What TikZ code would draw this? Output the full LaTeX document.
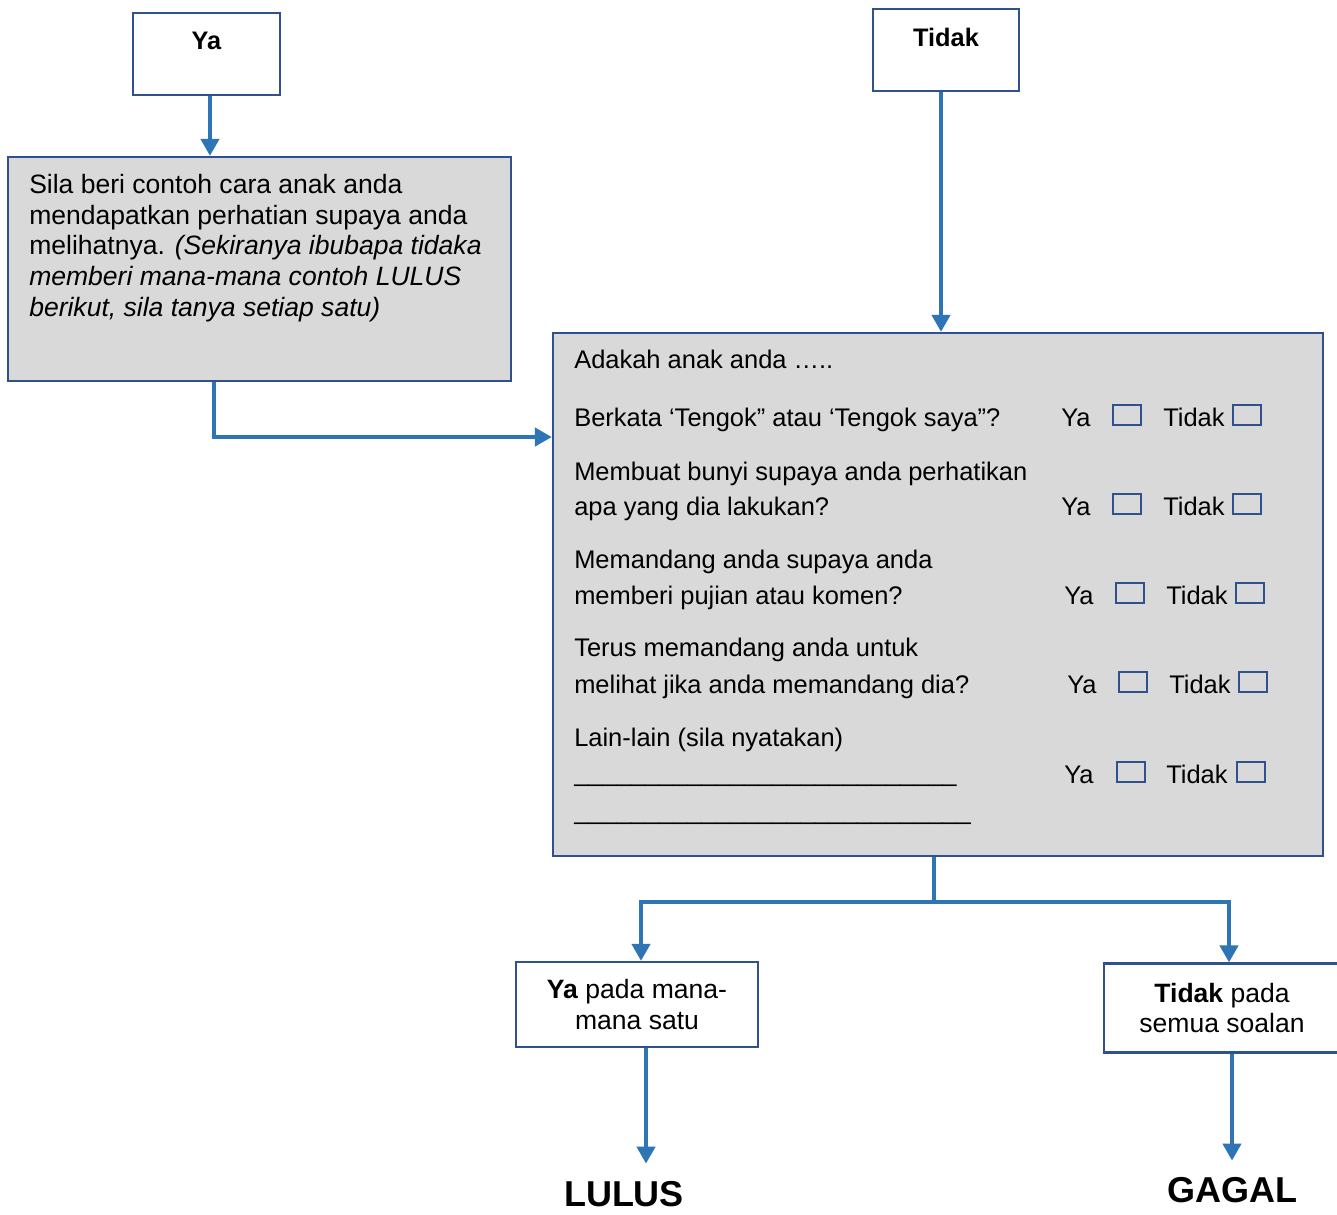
\documentclass[tikz,border=0pt]{standalone}
\usepackage{fontspec}
\setmainfont{Liberation Sans}
\usetikzlibrary{arrows.meta}

\definecolor{arrowblue}{HTML}{2E75B6}
\definecolor{edgeblue}{HTML}{2F528F}
\definecolor{panelgray}{HTML}{D9D9D9}

\newcommand\bodyfont{\fontsize{19.9pt}{23pt}\selectfont}
\newcommand\formfont{\fontsize{19.1pt}{23pt}\selectfont}
\newcommand\headfont{\fontsize{19pt}{23pt}\selectfont\bfseries}
\newcommand\resultfont{\fontsize{27pt}{32pt}\selectfont\bfseries}

\begin{document}
\begin{tikzpicture}[x=0.75pt,y=-0.75pt,
  box/.style={draw=edgeblue,line width=1.7pt,inner sep=0pt},
  size/.style 2 args={minimum width=#1*0.75pt,minimum height=#2*0.75pt},
  panel/.style={box,fill=panelgray},
  plain/.style={box,fill=white},
  arr/.style={draw=arrowblue,line width=3.5pt,
    -{Triangle[length=12.75pt,width=13.5pt]}},
  link/.style={draw=arrowblue,line width=3.5pt},
  body/.style={font=\bodyfont,inner sep=0pt,anchor=base west},
  form/.style={font=\formfont,inner sep=0pt,anchor=base west},
  chk/.style={draw=edgeblue,line width=1.3pt,inner sep=0pt,
    minimum width=21pt,minimum height=15pt,anchor=south west},
  result/.style={font=\resultfont,anchor=base,inner sep=0pt},
]
\path[use as bounding box,fill=white] (0,0) rectangle (1337,1214);

% top decision boxes
\node[plain,font=\headfont,minimum width=110.25pt,anchor=base,
      text height=27pt,text depth=34.5pt] (ya) at (206.5,49) {Ya};
\node[plain,font=\headfont,minimum width=109.5pt,anchor=base,
      text height=27.75pt,text depth=33.75pt] (tidak) at (946,46) {Tidak};

% prompt box on the left
\node[panel,size={503}{224}] (sila) at (259.5,269) {};
\node[body] (s1) at (29,193) {Sila beri contoh cara anak anda};
\node[body] (s2) at (29,224) {mendapatkan perhatian supaya anda};
\node[body] (s3) at (29,254) {melihatnya. \textit{(Sekiranya ibubapa tidaka}};
\node[body] (s4) at (29,285) {\textit{memberi mana-mana contoh LULUS}};
\node[body] (s5) at (29,316) {\textit{berikut, sila tanya setiap satu)}};

% question panel
\node[panel,size={770}{523}] (q) at (938,594.5) {};
\node[form] (q0)  at (574,368) {Adakah anak anda …..};
\node[form] (q1a) at (574,426) {Berkata ‘Tengok” atau ‘Tengok saya”?};
\node[form] (q2a) at (574,480) {Membuat bunyi supaya anda perhatikan};
\node[form] (q2b) at (574,515) {apa yang dia lakukan?};
\node[form] (q3a) at (574,568) {Memandang anda supaya anda};
\node[form] (q3b) at (574,604) {memberi pujian atau komen?};
\node[form] (q4a) at (574,656) {Terus memandang anda untuk};
\node[form] (q4b) at (574,693) {melihat jika anda memandang dia?};
\node[form] (q5a) at (574,746) {Lain-lain (sila nyatakan)};
\node[form] (q5b) at (574,781) {\_\_\_\_\_\_\_\_\_\_\_\_\_\_\_\_\_\_\_\_\_\_\_\_\_\_\_};
\node[form] (q5c) at (574,819) {\_\_\_\_\_\_\_\_\_\_\_\_\_\_\_\_\_\_\_\_\_\_\_\_\_\_\_\_};

% answer columns with tick boxes
\foreach \row/\xa/\xb/\xc/\xd/\yb in
  {1/1061/1112/1163/1232/426, 2/1061/1112/1163/1232/515,
   3/1064/1115/1166/1235/604, 4/1067/1118/1169/1238/693,
   5/1064/1116/1166/1236/783}{
  \node[form] (ya\row) at (\xa,\yb) {Ya};
  \node[chk] (yb\row) at (\xb,\yb) {};
  \node[form] (ti\row) at (\xc,\yb) {Tidak};
  \node[chk] (tb\row) at (\xd,\yb) {};
}

% outcome boxes
\node[plain,font=\bodyfont,align=center,size={242}{85}] (yes) at (637,1004.5)
  {\textbf{Ya} pada mana-\\mana satu};
\node[plain,font=\bodyfont,align=center,size={236}{89}] (no) at (1222,1008)
  {\textbf{Tidak} pada\\semua soalan};
\node[result] (lulus) at (624,1206) {LULUS};
\node[result] (gagal) at (1232,1202) {GAGAL};

% connectors
\draw[arr] ([xshift=2.6pt]ya.south) -- ([xshift=2.6pt]ya.south |- sila.north);
\coordinate (qin) at ([yshift=118.1pt]q.west);
\draw[arr] ([xshift=-34.1pt]sila.south) |- (qin);
\draw[arr] ([xshift=-3.75pt]tidak.south) -- ([xshift=-3.75pt]tidak.south |- q.north);
\path ([xshift=-3pt]q.south) ++(0,45) coordinate (j);
\draw[link] ([xshift=-3pt]q.south) -- (j);
\draw[arr] (j) -| ([xshift=3pt]yes.north);
\draw[arr] (j) -| ([xshift=5.25pt]no.north);
\draw[arr] ([xshift=6.75pt]yes.south) -- ([xshift=6.75pt,yshift=12.75pt]yes.south |- lulus.north);
\draw[arr] ([xshift=7.5pt]no.south) -- ([yshift=12pt]gagal.north);
\end{tikzpicture}
\end{document}
